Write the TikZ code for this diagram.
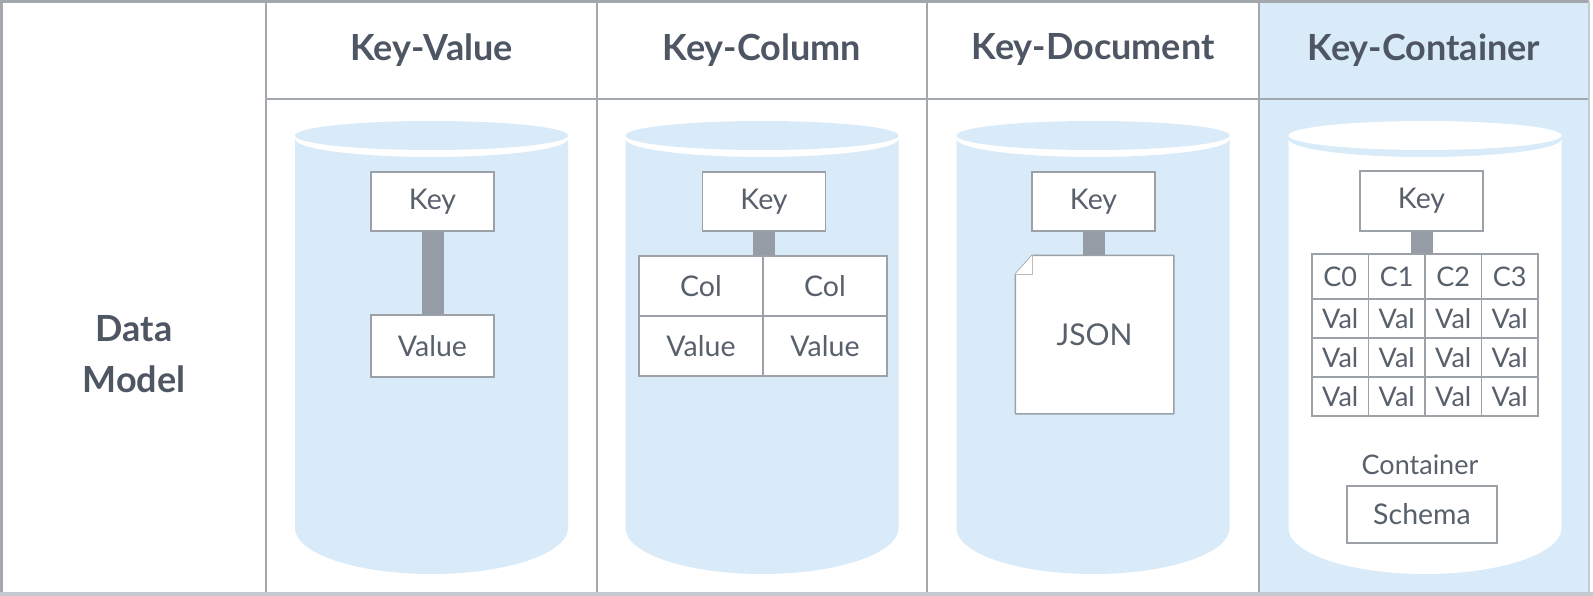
\documentclass[tikz,border=0pt]{standalone}
\usepackage{fontspec}
\setmainfont{Lato}
\definecolor{cylblue}{HTML}{D9EBF8}
\definecolor{gridc}{HTML}{A3A8AF}
\definecolor{gridl}{HTML}{C6CBD1}
\definecolor{boxc}{HTML}{9CA0A7}
\definecolor{barc}{HTML}{959CA6}
\definecolor{txtc}{HTML}{58606B}
\definecolor{headc}{HTML}{4E5663}
\tikzset{
  cell/.style={draw=boxc, line width=1.5pt, fill=white, inner sep=0pt, text=txtc, font=\fontsize{28.5}{32}\selectfont},
  smallcell/.style={cell, font=\fontsize{27}{30}\selectfont},
  barline/.style={draw=barc, line width=22pt},
  head/.style={text=headc, font=\fontsize{36}{40}\selectfont\bfseries},
  gridline/.style={draw=gridc, line width=2.5pt},
}
\newcommand\drawcyl[2]{%
  \fill[#2] ({#1-136.5},139) -- ({#1-136.5},528)
    .. controls ({#1-136.5},553.4) and ({#1-75.4},574) .. (#1,574)
    .. controls ({#1+75.4},574) and ({#1+136.5},553.4) .. ({#1+136.5},528)
    -- ({#1+136.5},139)
    .. controls ({#1+136.5},148.9) and ({#1+75.4},157) .. (#1,157)
    .. controls ({#1-75.4},157) and ({#1-136.5},148.9) .. ({#1-136.5},139) -- cycle;
  \fill[#2] (#1,135.5) ellipse [x radius=136.5, y radius=14.5];
}
\begin{document}
\begin{tikzpicture}[x=1pt,y=-1pt]
\useasboundingbox (0,0) rectangle (1593,596);
\fill[white] (0,0) rectangle (1593,596);
% Key-Container column background
\fill[cylblue] (1259,1.5) rectangle (1589,592);
% cylinders
\drawcyl{431.5}{cylblue}
\drawcyl{762}{cylblue}
\drawcyl{1093}{cylblue}
\drawcyl{1425}{white}
% grid
\draw[gridline] (1.5,592) -- (1.5,1.5) -- (1589,1.5);
\foreach \xx in {266,597,927,1259} \draw[gridline] (\xx,1.5) -- (\xx,592);
\draw[gridline] (266,99) -- (1589,99);
\draw[draw=gridl, line width=2.5pt] (1589,1.5) -- (1589,592);
\draw[draw=gridl, line width=4pt] (0,594) -- (1593,594);
% headers
\node[head] (hkv) at (431.5,50) {Key-Value};
\node[head] (hkc) at (762,50) {Key-Column};
\node[head] (hkd) at (1093,50) {Key-Document};
\node[head] (hkn) at (1424,50) {Key-Container};
\node[head, align=center, font=\fontsize{36}{51}\selectfont\bfseries] (dm) at (134,354) {Data\\Model};
% Key-Value
\node[cell, minimum width=123pt, minimum height=59pt] (k1) at (432.5,201.5) {Key};
\node[cell, minimum width=123pt, minimum height=62pt] (v1) at (432.5,346) {Value};
\draw[barline] (k1.south) -- (v1.north);
% Key-Column
\node[cell, minimum width=123pt, minimum height=59pt] (k2) at (764,201.5) {Key};
\node[cell, minimum width=124pt, minimum height=60pt] (c21) at (701,286) {Col};
\node[cell, minimum width=124pt, minimum height=60pt] (c22) at (825,286) {Col};
\node[cell, minimum width=124pt, minimum height=60pt] (v21) at (701,346) {Value};
\node[cell, minimum width=124pt, minimum height=60pt] (v22) at (825,346) {Value};
\draw[barline] (k2.south) -- (k2.south |- c21.north);
% Key-Document
\node[cell, minimum width=123pt, minimum height=59pt] (k3) at (1093.5,201.5) {Key};
\node[cell, draw=none, minimum width=157pt, minimum height=157pt, font=\fontsize{30}{34}\selectfont] (doc) at (1094.5,334.5) {JSON};
\fill[cylblue] (doc.north west) -- ([xshift=17pt]doc.north west) -- ([yshift=-19pt]doc.north west) -- cycle;
\draw[boxc, line width=1.5pt, line join=round] ([yshift=-19pt]doc.north west) -- ([xshift=17pt]doc.north west) -- (doc.north east) -- (doc.south east) -- (doc.south west) -- cycle;
\draw[boxc!70, line width=1.2pt, fill=white, line join=round] ([yshift=-19pt]doc.north west) -- ([xshift=17pt,yshift=-19pt]doc.north west) -- ([xshift=17pt]doc.north west);
\draw[barline] (k3.south) -- (k3.south |- doc.north);
% Key-Container
\node[cell, minimum width=123pt, minimum height=60pt] (k4) at (1421.5,201) {Key};
\foreach \j/\xx in {0/1340.25,1/1396.75,2/1453.25,3/1509.75} {
  \node[smallcell, minimum width=56.5pt, minimum height=45pt] (h\j) at (\xx,276.5) {C\j};
  \foreach \i/\yy in {1/318.5,2/357.5,3/396.5}
    \node[smallcell, minimum width=56.5pt, minimum height=39pt] (r\i\j) at (\xx,\yy) {Val};
}
\draw[barline] (k4.south) -- (k4.south |- h1.north);
\node[text=txtc, font=\fontsize{27}{30}\selectfont] (cont) at (1420,465) {Container};
\node[cell, minimum width=150pt, minimum height=57pt] (sch) at (1422,514.5) {Schema};
\end{tikzpicture}
\end{document}
